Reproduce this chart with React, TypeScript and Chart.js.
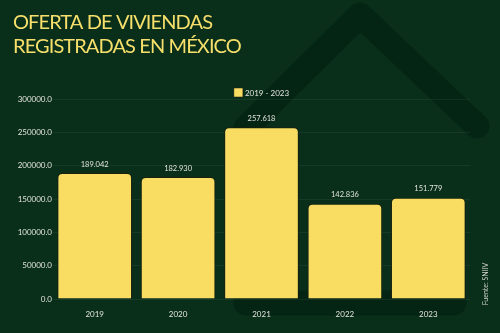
import { useEffect, useRef } from "react";
import { Chart, registerables } from "chart.js";

Chart.register(...registerables);

const titleLines = ["OFERTA DE VIVIENDAS", "REGISTRADAS EN MÉXICO"];
const categories = ["2019", "2020", "2021", "2022", "2023"];
const values = [189042, 182930, 257618, 142836, 151779];
const seriesLabel = "2019 - 2023";
const sourceText = "Fuente: SNIIV";
const yMax = 300000;
const yStep = 50000;

const BG = "#092f1b";
const HOUSE = "#052514";
const YELLOW = "#f9dc62";
const TITLE = "#f7df6b";
const TEXT = "#e4e4dc";
const FONT = "Lato, 'Open Sans', sans-serif";

function fmtThousands(v: number): string {
  const s = Math.round(v).toString();
  return s.replace(/\B(?=(\d{3})+(?!\d))/g, ".");
}

const decorPlugin = {
  id: "decor",
  beforeDraw(chart: any) {
    const ctx = chart.ctx;
    const w = chart.width;
    const h = chart.height;
    ctx.save();
    ctx.fillStyle = BG;
    ctx.fillRect(0, 0, w, h);
    // house outline
    ctx.strokeStyle = HOUSE;
    ctx.lineWidth = 25;
    ctx.lineJoin = "round";
    ctx.lineCap = "round";
    ctx.beginPath();
    ctx.moveTo(477, 126);
    ctx.lineTo(360, 15);
    ctx.lineTo(246, 128);
    ctx.lineTo(246, 303);
    ctx.lineTo(454, 303);
    ctx.stroke();
    // title
    ctx.fillStyle = TITLE;
    ctx.font = `20px ${FONT}`;
    (ctx as any).letterSpacing = "-0.9px";
    ctx.textBaseline = "alphabetic";
    ctx.textAlign = "left";
    ctx.fillText(titleLines[0], 13, 28.5);
    ctx.fillText(titleLines[1], 13, 52.5);
    (ctx as any).letterSpacing = "0px";
    ctx.restore();
  },
  afterDatasetsDraw(chart: any) {
    const ctx = chart.ctx;
    const meta = chart.getDatasetMeta(0);
    ctx.save();
    ctx.fillStyle = TEXT;
    ctx.font = `7.5px ${FONT}`;
    ctx.textAlign = "center";
    ctx.textBaseline = "bottom";
    meta.data.forEach((bar: any, i: number) => {
      ctx.fillText(fmtThousands(values[i]), bar.x, bar.y - 5);
    });
    ctx.restore();
  },
  afterDraw(chart: any) {
    const ctx = chart.ctx;
    const ca = chart.chartArea;
    ctx.save();
    // legend
    ctx.font = `8px ${FONT}`;
    const tw = ctx.measureText(seriesLabel).width;
    const box = 9;
    const total = box + 2 + tw;
    const cx = (ca.left + ca.right) / 2;
    const x0 = cx - total / 2;
    const ly = 88;
    ctx.fillStyle = YELLOW;
    ctx.fillRect(x0, ly, box, box);
    ctx.strokeStyle = "#1b1f0e";
    ctx.lineWidth = 0.5;
    ctx.strokeRect(x0, ly, box, box);
    ctx.fillStyle = TEXT;
    ctx.textBaseline = "middle";
    ctx.textAlign = "left";
    ctx.fillText(seriesLabel, x0 + box + 2, ly + box / 2 + 0.5);
    // source
    ctx.translate(486, 284);
    ctx.rotate(-Math.PI / 2);
    ctx.font = `7px ${FONT}`;
    ctx.textAlign = "center";
    ctx.textBaseline = "middle";
    ctx.fillStyle = "#cfd2c8";
    ctx.fillText(sourceText, 0, 0);
    ctx.restore();
  },
};

export default function App() {
  const ref = useRef<HTMLCanvasElement | null>(null);
  useEffect(() => {
    document.body.style.margin = "0";
    const canvas = ref.current;
    if (!canvas) return;
    const chart = new Chart(canvas, {
      type: "bar",
      data: {
        labels: categories,
        datasets: [
          {
            label: seriesLabel,
            data: values,
            backgroundColor: YELLOW,
            borderColor: "#1b1f0e",
            borderWidth: 1,
            borderRadius: { topLeft: 5, topRight: 5, bottomLeft: 0, bottomRight: 0 },
            borderSkipped: "bottom",
            barPercentage: 0.895,
            categoryPercentage: 1,
          },
        ],
      },
      options: {
        responsive: false,
        animation: false,
        devicePixelRatio: 1,
        layout: { padding: { left: 0, right: 30, top: 99, bottom: 0 } },
        plugins: {
          legend: { display: false },
          title: { display: false },
          tooltip: { enabled: false },
        },
        scales: {
          x: {
            grid: { display: false },
            border: { display: false },
            ticks: {
              color: TEXT,
              font: { family: FONT, size: 8 },
              padding: 3,
            },
            afterFit: (s: any) => {
              s.height = 34;
            },
          },
          y: {
            min: 0,
            max: yMax,
            grid: {
              color: "rgba(255,255,255,0.055)",
              drawTicks: false,
              lineWidth: 1,
            },
            border: { display: false },
            ticks: {
              stepSize: yStep,
              color: TEXT,
              font: { family: FONT, size: 8 },
              padding: 1,
              callback: (v: any) => Number(v).toFixed(1),
            },
            afterFit: (s: any) => {
              s.width = 53;
            },
          },
        },
      },
      plugins: [decorPlugin],
    });
    return () => chart.destroy();
  }, []);
  return (
    <div style={{ width: 500, height: 333, background: BG }}>
      <canvas ref={ref} width={500} height={333} style={{ display: "block", width: 500, height: 333 }} />
    </div>
  );
}
